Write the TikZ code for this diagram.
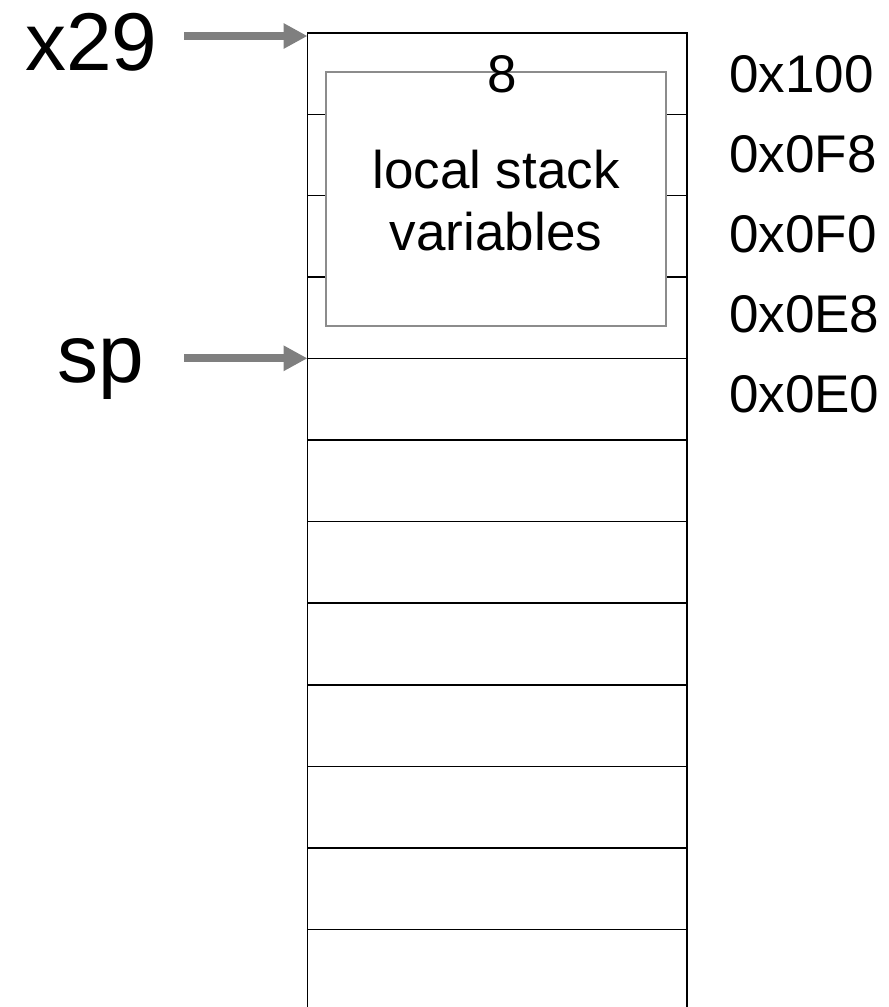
\documentclass[tikz,border=0pt]{standalone}
\usepackage{fontspec}
\setmainfont{Liberation Sans}
\usetikzlibrary{arrows.meta}
\definecolor{arrowgray}{HTML}{7F7F7F}
\definecolor{boxgray}{HTML}{8C8C8C}
\tikzset{
  cellline/.style={line width=1.6pt, draw=black},
  ptr/.style={draw=arrowgray, line width=8pt, -{Triangle[length=24pt,width=24pt]}, shorten >=0pt},
  reglabel/.style={font=\fontsize{82}{90}\selectfont, inner sep=0pt, anchor=base west},
  addr/.style={font=\fontsize{53}{60}\selectfont, inner sep=0pt, anchor=base west},
  inner/.style={font=\fontsize{53}{62}\selectfont, inner sep=0pt, align=center},
}
\begin{document}
\begin{tikzpicture}[x=1pt,y=-1pt]
\useasboundingbox (0,0) rectangle (889,1007);
\clip (0,0) rectangle (889,1007);
% stack outline and rows
\draw[cellline] (307.5,1020) -- (307.5,33) -- (687,33) -- (687,1020);
\foreach \y in {114.3,195.5,277,358.5,440,521.5,603,685,766.5,848,929.5,1011}
  \draw[cellline] (307.5,\y) -- (687,\y);
\coordinate (top) at (307.5,36);
\coordinate (sptop) at (307.5,358.3);
% local variables box
\node[draw=boxgray, line width=1.6pt, fill=white, minimum width=340pt, minimum height=253.5pt, inner sep=0pt] (locals) at (496,199) {};
\node[inner, anchor=base] (eight) at (502,92) {8};
\node[inner, anchor=base] (lsv1) at (496,188) {local stack};
\node[inner, anchor=base] (lsv2) at (496,250) {variables};
% register labels
\node[reglabel] (x29) at (25,70) {x29};
\node[reglabel] (sp) at (57,382) {sp};
\draw[ptr] (184,36) -- (top);
\draw[ptr] (184,358.3) -- (sptop);
% addresses
\node[addr] (a100) at (729,92) {0x100};
\node[addr] (a0f8) at (729,172) {0x0F8};
\node[addr] (a0f0) at (729,252) {0x0F0};
\node[addr] (a0e8) at (729,332) {0x0E8};
\node[addr] (a0e0) at (729,412) {0x0E0};
\end{tikzpicture}
\end{document}
